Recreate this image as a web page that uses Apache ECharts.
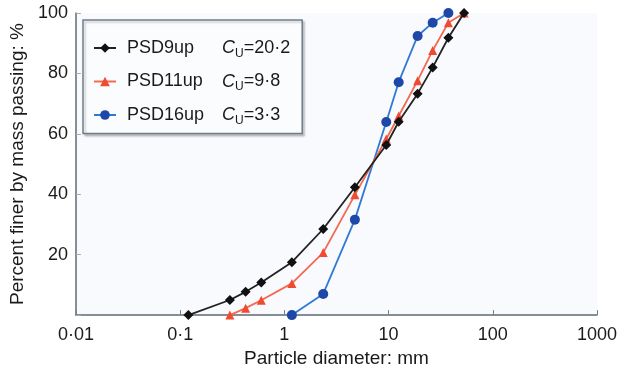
<!DOCTYPE html>
<html><head><meta charset="utf-8">
<script src="https://cdn.jsdelivr.net/npm/echarts@6/dist/echarts.min.js"></script>
<style>html,body{margin:0;padding:0;background:#fff}#c{width:625px;height:373px}</style>
</head><body><div id="c"></div>
<script>
// Data
const sieveSizes = [0.12, 0.3, 0.425, 0.6, 1.18, 2.36, 4.75, 9.5, 12.5, 19, 26.5, 37.5, 53];
const psd9up  = [0, 5, 7.7, 10.8, 17.5, 28.5, 42.3, 56.3, 64, 73.3, 82, 91.8, 100];
const psd11upSizes = [0.3, 0.425, 0.6, 1.18, 2.36, 4.75, 9.5, 12.5, 19, 26.5, 37.5, 53];
const psd11up = [0, 2.3, 4.9, 10.5, 20.7, 39.8, 58.3, 65.9, 77.6, 87.6, 96.8, 100];
const psd16upSizes = [1.18, 2.36, 4.75, 9.5, 12.5, 19, 26.5, 37.5];
const psd16up = [0, 7, 31.6, 63.9, 77.1, 92.4, 96.8, 100];
const seriesNames = ['PSD9up', 'PSD11up', 'PSD16up'];
const cuValues = ['20·2', '9·8', '3·3'];
const xTickLabels = ['0·01', '0·1', '1', '10', '100', '1000'];
const yTickLabels = ['', '20', '40', '60', '80', '100'];

const font = "'Liberation Sans', Arial, Helvetica, sans-serif";
const pair = (xs, ys) => xs.map((x, i) => [x, ys[i]]);

const chart = echarts.init(document.getElementById('c'), null, {renderer: 'canvas'});
chart.setOption({
  animation: false,
  backgroundColor: '#ffffff',
  textStyle: {fontFamily: font},
  grid: {left: 73.5, right: 28, top: 13, bottom: 56, show: true, backgroundColor: '#f8fafd', borderWidth: 0},
  legend: {
    orient: 'vertical', left: 83, top: 20,
    padding: [19, 12, 7, 10],
    itemGap: 13, itemWidth: 22, itemHeight: 12,
    backgroundColor: '#fbfcfe', borderColor: '#6e7e87', borderWidth: 1.5,
    shadowColor: 'rgba(0,0,0,0.2)', shadowBlur: 2, shadowOffsetX: 2, shadowOffsetY: 2,
    data: seriesNames,
    formatter: function (name) {
      const i = seriesNames.indexOf(name);
      return '{n|' + name + '}{c|C}{s|U}{v|=' + cuValues[i] + '}';
    },
    textStyle: {
      color: '#1a1a1a', fontFamily: font, fontSize: 18,
      rich: {
        n: {fontSize: 18, fontFamily: font, color: '#1a1a1a', width: 95, padding: [0, 0, 0, 6], lineHeight: 23},
        c: {fontSize: 18, fontFamily: font, color: '#1a1a1a', fontStyle: 'italic', lineHeight: 23},
        s: {fontSize: 12, fontFamily: font, color: '#1a1a1a', verticalAlign: 'bottom', lineHeight: 23},
        v: {fontSize: 18, fontFamily: font, color: '#1a1a1a', lineHeight: 23}
      }
    }
  },
  xAxis: {
    type: 'log', logBase: 10, min: 0.01, max: 1000,
    name: 'Particle diameter: mm', nameLocation: 'middle', nameGap: 30,
    nameTextStyle: {fontSize: 19, color: '#1a1a1a', fontFamily: font},
    axisLine: {show: true, lineStyle: {color: '#5c6b73', width: 1.5}},
    axisTick: {show: true, inside: true, length: 5, lineStyle: {color: '#6f8088'}},
    minorTick: {show: false},
    splitLine: {show: false},
    axisLabel: {
      margin: 11, fontSize: 18, color: '#1a1a1a', fontFamily: font,
      formatter: function (v, idx) { return xTickLabels[idx] !== undefined ? xTickLabels[idx] : ''; }
    }
  },
  yAxis: {
    type: 'value', min: 0, max: 100, interval: 20,
    name: 'Percent finer by mass passing: %', nameLocation: 'middle', nameGap: 42,
    nameTextStyle: {fontSize: 19, color: '#1a1a1a', fontFamily: font},
    axisLine: {show: true, lineStyle: {color: '#5c6b73', width: 1.5}},
    axisTick: {show: true, inside: true, length: 5, lineStyle: {color: '#9fb0ba'}},
    splitLine: {show: false},
    axisLabel: {
      margin: 8, fontSize: 18, color: '#1a1a1a', fontFamily: font,
      formatter: function (v, idx) { return yTickLabels[idx] !== undefined ? yTickLabels[idx] : ''; }
    }
  },
  series: [
    {name: 'PSD9up', type: 'line', z: 5, data: pair(sieveSizes, psd9up),
     symbol: 'diamond', symbolSize: 10,
     lineStyle: {color: '#222222', width: 1.8}, itemStyle: {color: '#111111'}},
    {name: 'PSD11up', type: 'line', z: 4, data: pair(psd11upSizes, psd11up),
     symbol: 'triangle', symbolSize: 9,
     lineStyle: {color: '#f26a4f', width: 1.8}, itemStyle: {color: '#f04b30'}},
    {name: 'PSD16up', type: 'line', z: 3, data: pair(psd16upSizes, psd16up),
     symbol: 'circle', symbolSize: 10,
     lineStyle: {color: '#2f7ad4', width: 1.8}, itemStyle: {color: '#1e48a8'}}
  ]
});
</script></body></html>
